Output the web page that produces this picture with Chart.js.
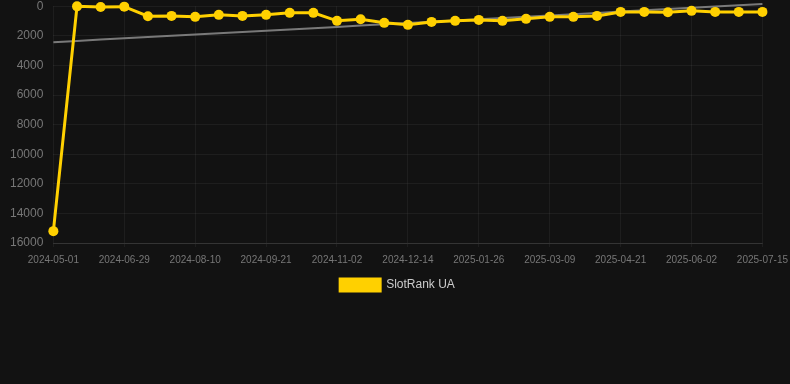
<!DOCTYPE html>
<html><head><meta charset="utf-8">
<script src="https://cdn.jsdelivr.net/npm/chart.js@4/dist/chart.umd.min.js"></script>
<style>
html,body{margin:0;padding:0;background:#121212;overflow:hidden;}
canvas{display:block;margin-top:-11px;}
</style></head><body>
<canvas id="c" width="795" height="312"></canvas>
<script>
const categories = ["2024-05-01","2024-06-01","2024-06-15","2024-06-29","2024-07-13","2024-07-27","2024-08-10","2024-08-24","2024-09-07","2024-09-21","2024-10-05","2024-10-19","2024-11-02","2024-11-16","2024-11-30","2024-12-14","2024-12-28","2025-01-12","2025-01-26","2025-02-09","2025-02-23","2025-03-09","2025-03-23","2025-04-06","2025-04-21","2025-05-05","2025-05-19","2025-06-02","2025-06-16","2025-06-30","2025-07-15"];
const rankValues = [15200,10,50,30,675,655,720,585,655,585,450,450,990,880,1125,1260,1060,990,925,990,855,720,720,655,385,385,405,315,385,385,385];
const trendValues = [2430,2344,2258,2172,2086,2000,1914,1828,1742,1656,1570,1484,1398,1312,1226,1140,1054,968,882,796,710,624,538,452,366,280,194,108,22,-64,-155];
const yTicks = [0,2000,4000,6000,8000,10000,12000,14000,16000];
const seriesName = "SlotRank UA";

Chart.defaults.font.family = "'Liberation Sans', Arial, sans-serif";
new Chart(document.getElementById('c'), {
  type: 'line',
  data: {
    labels: categories,
    datasets: [
      {label: seriesName, data: rankValues, borderColor: '#FFD000', backgroundColor: '#FFD000', clip: false,
       borderWidth: 3, pointRadius: 5, pointHoverRadius: 5, pointBackgroundColor: '#FFD000', pointBorderWidth: 0, tension: 0, order: 1},
      {label: 'trend', data: trendValues, borderColor: 'rgba(140,140,140,0.85)', borderWidth: 2, pointRadius: 0, fill: false, clip: false, order: 2}
    ]
  },
  options: {
    responsive: false, animation: false, devicePixelRatio: 1,
    layout: {padding: {left: 0, right: 0, top: 0, bottom: 0}},
    plugins: {
      legend: {position: 'bottom', labels: {color: '#cccccc', font: {size: 12}, boxWidth: 40, boxHeight: 12, padding: 6,
        filter: (item) => item.text !== 'trend'}},
      tooltip: {enabled: false}
    },
    scales: {
      x: {
        offset: false,
        grid: {color: (ctx) => (ctx.index % 3 === 0 ? 'rgba(255,255,255,0.05)' : 'transparent'), drawTicks: true, tickLength: 4},
        border: {color: 'rgba(255,255,255,0.1)'},
        ticks: {color: '#777', font: {size: 10}, autoSkip: false, maxRotation: 0, padding: 7,
          callback: function(v, i) { return i % 3 === 0 ? this.getLabelForValue(v) : ''; }}
      },
      y: {
        reverse: true, min: 0, max: 16000,
        afterBuildTicks: (s) => { s.ticks = yTicks.map(v => ({value: v})); },
        grid: {color: 'rgba(255,255,255,0.05)', drawTicks: false},
        border: {display: false},
        ticks: {color: '#777', font: {size: 12}, padding: 10, callback: (v) => String(v)}
      }
    }
  }
});
</script>
</body></html>
